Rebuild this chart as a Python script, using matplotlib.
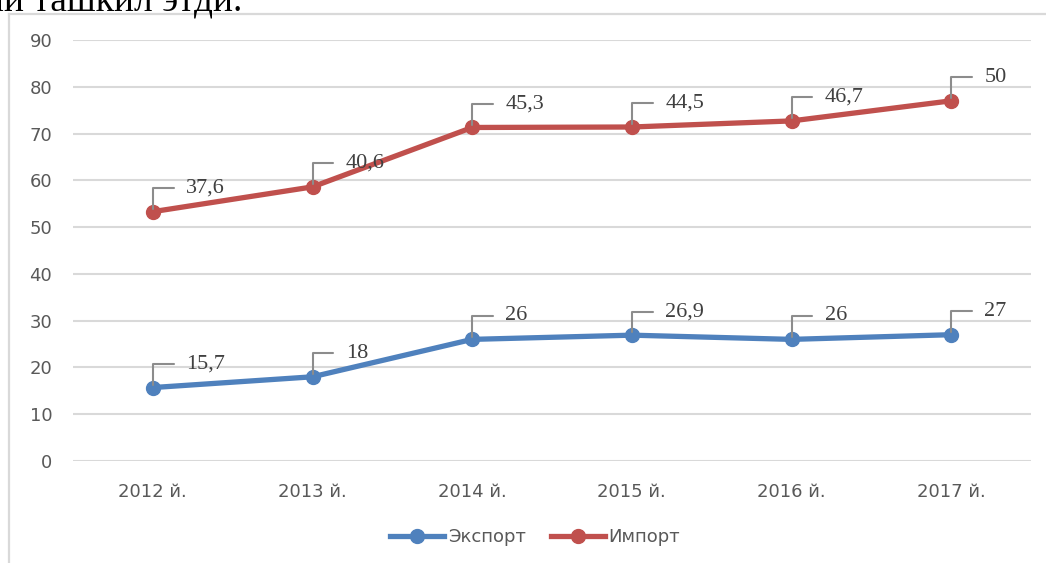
import numpy as np
import matplotlib.pyplot as plt
from matplotlib.lines import Line2D

# data (stacked line chart: import drawn on top of export)
years = ['2012 й.', '2013 й.', '2014 й.', '2015 й.', '2016 й.', '2017 й.']
export_vals = [15.7, 18, 26, 26.9, 26, 27]
import_vals = [37.6, 40.6, 45.3, 44.5, 46.7, 50]
export_labels = ['15,7', '18', '26', '26,9', '26', '27']
import_labels = ['37,6', '40,6', '45,3', '44,5', '46,7', '50']
yticks = [0, 10, 20, 30, 40, 50, 60, 70, 80, 90]

blue = '#4F81BD'
red = '#C0504D'
grid_c = '#D9D9D9'
tick_c = '#595959'

fig = plt.figure(figsize=(10.46, 5.63), dpi=100)
ax = fig.add_axes([73/1046, 1-461/563, (1031-73)/1046, (461-40)/563])

x = np.arange(len(years))
stacked = np.array(export_vals) + np.array(import_vals)

ax.plot(x, export_vals, color=blue, lw=3.8, marker='o', ms=10, label='Экспорт', zorder=3)
ax.plot(x, stacked, color=red, lw=3.8, marker='o', ms=10, label='Импорт', zorder=3)

# data labels with leader lines
for xs, ys, labs in [(x, export_vals, export_labels), (x, stacked, import_labels)]:
    for xi, yi, lab in zip(xs, ys, labs):
        ax.annotate(lab, xy=(xi, yi), xytext=(24, 17), textcoords='offset points',
                    ha='left', va='center', fontsize=16, color='#404040',
                    family='Liberation Serif', zorder=4,
                    arrowprops=dict(arrowstyle='-', color='#8C8C8C', lw=1.5,
                                    shrinkA=7, shrinkB=2,
                                    connectionstyle='angle,angleA=180,angleB=90,rad=0'))

ax.set_xlim(-0.5, len(years) - 0.5)
ax.set_ylim(0, 90)
ax.set_yticks(yticks)
ax.set_xticks(x)
ax.set_xticklabels(years)
ax.yaxis.grid(True, color=grid_c, lw=1.5)
ax.set_axisbelow(True)
for s in ax.spines.values():
    s.set_visible(False)
ax.tick_params(axis='both', length=0, labelsize=13, labelcolor=tick_c)
ax.tick_params(axis='y', pad=15)
ax.tick_params(axis='x', pad=16)

leg = fig.legend(loc='center', bbox_to_anchor=(535/1046, 1-537/563), ncol=2, frameon=False,
                 fontsize=13, handlelength=3.0, handletextpad=0.2, columnspacing=1.4)
for t in leg.get_texts():
    t.set_color(tick_c)

# chart frame (partly cut off in the original screenshot)
fig.add_artist(Line2D([9/1046, 9/1046], [0, 1-14/563], color=grid_c, lw=1.6))
fig.add_artist(Line2D([9/1046, 1], [1-14/563, 1-14/563], color=grid_c, lw=1.6))

# cut-off sentence above the chart
fig.text(-16/1046, 1-10/563, 'ни ташкил этди.', family='Liberation Serif', fontsize=27,
         ha='left', va='baseline', color='black')

fig.savefig('out.png', dpi=100)
